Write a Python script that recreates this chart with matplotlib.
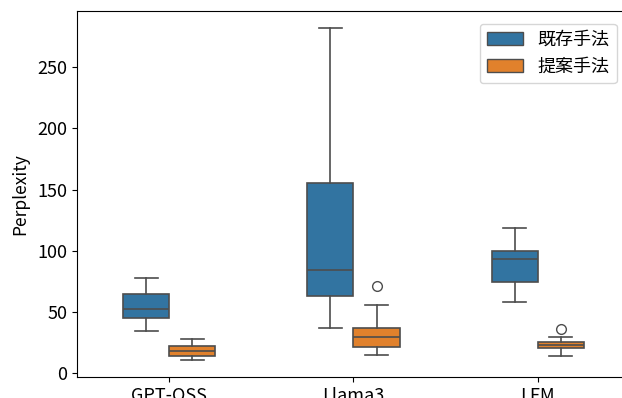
import matplotlib
matplotlib.use("Agg")
import matplotlib.pyplot as plt
from matplotlib.patches import Patch

plt.rcParams['font.family'] = ['Noto Sans CJK JP', 'DejaVu Sans']

models = ["GPT-OSS", "Llama3", "LFM"]
methods = ["既存手法", "提案手法"]
colors = ["#3274a1", "#e1812c"]

# box stats per method, one entry per model
whislo = {"既存手法": [34, 37, 58], "提案手法": [10.5, 15, 14]}
q1 = {"既存手法": [45, 63, 74], "提案手法": [14, 21.5, 20.2]}
med = {"既存手法": [52.5, 84, 93.5], "提案手法": [18.2, 29.7, 22.9]}
q3 = {"既存手法": [64.5, 155, 100], "提案手法": [22, 36.5, 25]}
whishi = {"既存手法": [78, 282, 118.5], "提案手法": [28, 55.5, 29]}
fliers = {"既存手法": [[], [], []], "提案手法": [[], [71], [36]]}

line_col = "#4d4d4d"
fig = plt.figure(figsize=(6.22, 3.98), dpi=100)
ax = fig.add_axes([0.1238, 0.0528, 0.889, 0.9196])

width = 0.25
for k, m in enumerate(methods):
    stats = []
    for i in range(len(models)):
        stats.append(dict(whislo=whislo[m][i], q1=q1[m][i], med=med[m][i],
                          q3=q3[m][i], whishi=whishi[m][i], fliers=fliers[m][i]))
    pos = [i + (k - 0.5) * width for i in range(len(models))]
    ax.bxp(stats, positions=pos, widths=width, patch_artist=True,
           showfliers=True, manage_ticks=False,
           boxprops=dict(facecolor=colors[k], edgecolor=line_col, linewidth=1.2),
           medianprops=dict(color=line_col, linewidth=1.2),
           whiskerprops=dict(color=line_col, linewidth=1.2),
           capprops=dict(color=line_col, linewidth=1.2),
           flierprops=dict(marker='o', markerfacecolor='none',
                           markeredgecolor=line_col, markersize=7,
                           markeredgewidth=1.0))

ax.set_xticks(range(len(models)))
ax.set_xticklabels(models)
ax.set_xlim(-0.5, 2.5)
ax.set_ylim(-3.3, 296)
ax.set_yticks([0, 50, 100, 150, 200, 250])
ax.tick_params(labelsize=13)
ax.set_ylabel("Perplexity", fontsize=12.5, labelpad=6)

handles = [Patch(facecolor=c, edgecolor=line_col, label=m) for c, m in zip(colors, methods)]
ax.legend(handles=handles, loc="upper right", fontsize=13,
          bbox_to_anchor=(0.992, 0.99))

fig.savefig("out.png", dpi=100)
